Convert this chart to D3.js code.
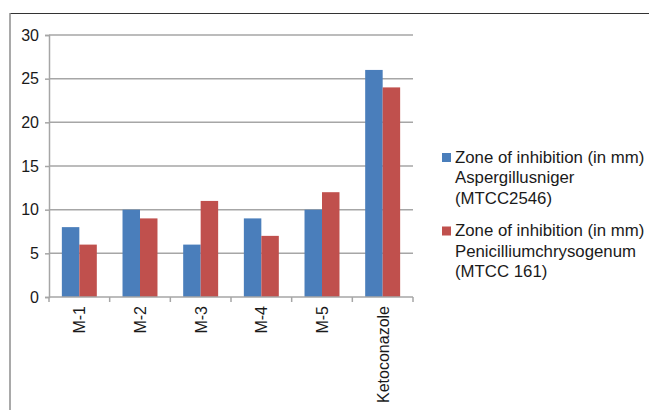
<!DOCTYPE html>
<html lang="en">
<head>
<meta charset="UTF-8">
<title>Zone of inhibition</title>
<style>
    body { margin: 0; background: #fff; font-family: Arial, "Liberation Sans", sans-serif; }
    svg { display: block; }
</style>
</head>
<body>
<svg id="chart" width="649" height="410"></svg>
<script src="https://d3js.org/d3.v7.min.js"></script>
<script>
    // data
    const categories = ["M-1", "M-2", "M-3", "M-4", "M-5", "Ketoconazole"];
    const aspergillus = [8, 10, 6, 9, 10, 26];
    const penicillium = [6, 9, 11, 7, 12, 24];
    const yTicks = [0, 5, 10, 15, 20, 25, 30];
    const seriesNames = [
        ["Zone of inhibition (in mm)", "Aspergillusniger", "(MTCC2546)"],
        ["Zone of inhibition (in mm)", "Penicilliumchrysogenum", "(MTCC 161)"]
    ];
    const colors = ["#4a7ebb", "#c0504d"];

    const svg = d3.select("#chart");
    const font = "Arial, 'Liberation Sans', sans-serif";

    // outer frame (only top and left edges are visible)
    svg.append("line").attr("x1", 10).attr("x2", 649).attr("y1", 13.5).attr("y2", 13.5)
        .attr("stroke", "#333").attr("stroke-width", 1);
    svg.append("line").attr("x1", 10).attr("x2", 10).attr("y1", 13).attr("y2", 410)
        .attr("stroke", "#8c8c8c").attr("stroke-width", 1.5);

    const plotL = 49, plotR = 413, plotT = 35, plotB = 297;

    const x = d3.scaleBand().domain(categories).range([plotL, plotR]).paddingInner(0).paddingOuter(0);
    const xSub = d3.scaleBand().domain([0, 1]).range([0, x.bandwidth()]).paddingOuter(0.735).paddingInner(0);
    const y = d3.scaleLinear().domain([0, 30]).range([plotB, plotT]);

    // gridlines
    svg.append("g").selectAll("line").data(yTicks.filter(d => d > 0)).join("line")
        .attr("x1", plotL).attr("x2", plotR)
        .attr("y1", d => y(d)).attr("y2", d => y(d))
        .attr("stroke", "#a6a6a6").attr("stroke-width", 1.5);

    // y axis
    const yAxis = svg.append("g").attr("transform", `translate(${plotL},0)`)
        .call(d3.axisLeft(y).tickValues(yTicks).tickSize(4).tickPadding(6));
    yAxis.select(".domain").attr("stroke", "#a6a6a6").attr("stroke-width", 1.5);
    yAxis.selectAll(".tick line").attr("stroke", "#a6a6a6").attr("stroke-width", 1.5);
    yAxis.selectAll("text").attr("font-size", 16).attr("fill", "#1a1a1a")
        .attr("font-family", font);

    // bars
    const series = [aspergillus, penicillium];
    series.forEach((vals, si) => {
        svg.append("g").selectAll("rect").data(vals).join("rect")
            .attr("x", (d, i) => x(categories[i]) + xSub(si))
            .attr("width", xSub.bandwidth())
            .attr("y", d => y(d))
            .attr("height", d => y(0) - y(d))
            .attr("fill", colors[si]);
    });

    // x axis
    svg.append("line").attr("x1", plotL).attr("x2", plotR).attr("y1", plotB).attr("y2", plotB)
        .attr("stroke", "#a6a6a6").attr("stroke-width", 1.5);
    const xTickPos = categories.map(c => x(c)).concat([plotR]);
    svg.append("g").selectAll("line").data(xTickPos).join("line")
        .attr("x1", d => d).attr("x2", d => d)
        .attr("y1", plotB).attr("y2", plotB + 5)
        .attr("stroke", "#a6a6a6").attr("stroke-width", 1.5);
    svg.append("g").selectAll("text").data(categories).join("text")
        .attr("transform", d => `translate(${x(d) + x.bandwidth() / 2 + 6},${plotB + 9}) rotate(-90)`)
        .attr("text-anchor", "end")
        .attr("font-size", 16).attr("fill", "#1a1a1a").attr("font-family", font)
        .text(d => d);

    // legend
    const legend = svg.append("g").attr("transform", "translate(442,153)");
    seriesNames.forEach((lines, si) => {
        const g = legend.append("g").attr("transform", `translate(0,${si * 73.5})`);
        g.append("rect").attr("width", 9).attr("height", 9).attr("fill", colors[si]);
        const t = g.append("text").attr("x", 13).attr("y", 9.5)
            .attr("font-size", 16.8).attr("fill", "#1a1a1a").attr("font-family", font);
        lines.forEach((l, li) => {
            t.append("tspan").attr("x", 13).attr("dy", li === 0 ? 0 : 20.5).text(l);
        });
    });
</script>
</body>
</html>
